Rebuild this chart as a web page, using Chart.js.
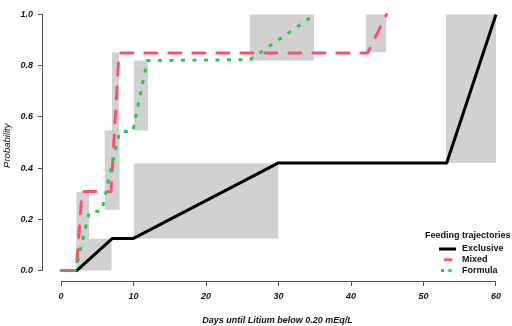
<!DOCTYPE html>
<html lang="en">
<head>
    <meta charset="UTF-8">
    <title>Feeding trajectories</title>
    <script src="https://cdn.jsdelivr.net/npm/chart.js"></script>
    <style>
        html, body { margin: 0; padding: 0; background: #fff; }
        #wrap { width: 512px; height: 326px; }
    </style>
</head>
<body>
    <div id="wrap"><canvas id="chart" width="512" height="326"></canvas></div>

    <script>
        // step curves (days, cumulative probability)
        const exclusiveDays = [0, 2.2, 7.1, 10, 30, 53.2, 60];
        const exclusiveProb = [0, 0, 0.125, 0.125, 0.42, 0.42, 1.0];

        const mixedDays = [0, 2.1, 2.9, 6.9, 8.0, 42.3, 44.9];
        const mixedProb = [0, 0, 0.308, 0.308, 0.85, 0.85, 1.0];

        const formulaDays = [0, 2.0, 3.9, 5.6, 8.1, 9.9, 11.9, 26.1, 35];
        const formulaProb = [0, 0, 0.228, 0.232, 0.543, 0.543, 0.82, 0.824, 1.0];

        // confidence boxes
        const boxStart = [2.1, 2.1, 6.0, 7.0, 10.0, 10.0, 26.0, 42.0, 53.1];
        const boxEnd   = [3.9, 7.0, 8.1, 8.0, 12.0, 30.0, 34.9, 44.9, 60];
        const boxLow   = [0, 0, 0.237, 0.30, 0.547, 0.125, 0.82, 0.853, 0.42];
        const boxHigh  = [0.307, 0.124, 0.547, 0.852, 0.82, 0.418, 1.0, 1.0, 1.0];

        const xTicks = [0, 10, 20, 30, 40, 50, 60];
        const yTicks = [0, 0.2, 0.4, 0.6, 0.8, 1.0];

        const FONT = "'Liberation Sans', Arial, sans-serif";
        const axisColor = '#555';
        const boxColor = '#d1d1d1';

        const series = [
            { label: 'Formula', days: formulaDays, prob: formulaProb, color: '#22cc44', dash: [4, 7.5], cap: 'butt', key: [3, 4.5] },
            { label: 'Mixed', days: mixedDays, prob: mixedProb, color: '#ff4f6f', dash: [12, 12], cap: 'round', key: [] },
            { label: 'Exclusive', days: exclusiveDays, prob: exclusiveProb, color: '#000000', dash: [], cap: 'butt', key: [] }
        ];

        const toPoints = (xs, ys) => xs.map((x, i) => ({ x: x, y: ys[i] }));

        const lineSets = series.map(s => ({
            label: s.label,
            data: toPoints(s.days, s.prob),
            borderColor: s.color,
            borderWidth: 3,
            borderDash: s.dash,
            borderCapStyle: s.cap,
            borderJoinStyle: 'round',
            pointRadius: 0,
            fill: false,
            tension: 0
        }));

        const boxSets = boxStart.map((x1, i) => ({
            label: 'ci' + i,
            data: [{ x: x1, y: boxHigh[i] }, { x: boxEnd[i], y: boxHigh[i] }],
            borderColor: 'rgba(0,0,0,0)',
            borderWidth: 0,
            backgroundColor: boxColor,
            pointRadius: 0,
            fill: { value: boxLow[i] },
            tension: 0
        }));

        const rStyle = {
            id: 'rStyle',
            afterDraw(chart) {
                const { ctx, chartArea } = chart;
                const x = chart.scales.x, y = chart.scales.y;
                ctx.save();
                // axis lines only over the tick range
                ctx.strokeStyle = axisColor;
                ctx.lineWidth = 1;
                ctx.beginPath();
                const yb = Math.round(chartArea.bottom) + 0.5;
                ctx.moveTo(x.getPixelForValue(xTicks[0]), yb);
                ctx.lineTo(x.getPixelForValue(xTicks[xTicks.length - 1]), yb);
                const xl = Math.round(chartArea.left) - 0.5;
                ctx.moveTo(xl, y.getPixelForValue(yTicks[0]));
                ctx.lineTo(xl, y.getPixelForValue(yTicks[yTicks.length - 1]));
                ctx.stroke();

                // legend
                ctx.fillStyle = '#111';
                ctx.font = 'bold 9px ' + FONT;
                ctx.textBaseline = 'middle';
                ctx.textAlign = 'left';
                ctx.fillText('Feeding trajectories', 425, 236);
                const order = ['Exclusive', 'Mixed', 'Formula'];
                const keyX = { Exclusive: [439, 456], Mixed: [445, 451], Formula: [441, 451.5] };
                order.forEach((name, i) => {
                    const s = series.find(d => d.label === name);
                    const ly = 249 + i * 10.8;
                    ctx.strokeStyle = s.color;
                    ctx.lineWidth = 3;
                    ctx.lineCap = name === 'Mixed' ? 'round' : 'butt';
                    ctx.setLineDash(s.key);
                    ctx.beginPath();
                    ctx.moveTo(keyX[name][0], ly);
                    ctx.lineTo(keyX[name][1], ly);
                    ctx.stroke();
                    ctx.setLineDash([]);
                    ctx.fillText(name, 462, ly);
                });
                ctx.restore();
            }
        };

        const tickFont = { family: FONT, size: 9, style: 'italic', weight: 'bold' };

        new Chart(document.getElementById('chart'), {
            type: 'line',
            data: { datasets: lineSets.concat(boxSets) },
            options: {
                responsive: false,
                animation: false,
                devicePixelRatio: 1,
                layout: { padding: 0 },
                plugins: {
                    legend: { display: false },
                    tooltip: { enabled: false }
                },
                scales: {
                    x: {
                        type: 'linear',
                        min: -2.483,
                        max: 62.207,
                        afterBuildTicks: sc => { sc.ticks = xTicks.map(v => ({ value: v })); },
                        afterFit: sc => { sc.height = 45; },
                        border: { display: false },
                        grid: { drawOnChartArea: false, drawTicks: true, tickLength: 5, color: axisColor },
                        ticks: { font: tickFont, color: '#111', padding: 5, maxRotation: 0, callback: v => String(v) },
                        title: {
                            display: true,
                            text: 'Days until Litium below 0.20 mEq/L',
                            font: { family: FONT, size: 9, style: 'italic', weight: 'bold' },
                            color: '#111',
                            padding: { top: 0, bottom: 0 }
                        }
                    },
                    y: {
                        type: 'linear',
                        min: -0.0414,
                        max: 1.0162,
                        afterBuildTicks: sc => { sc.ticks = yTicks.map(v => ({ value: v })); },
                        afterFit: sc => { sc.width = 43; },
                        border: { display: false },
                        grid: { drawOnChartArea: false, drawTicks: true, tickLength: 5, color: axisColor },
                        ticks: { font: tickFont, color: '#111', padding: 5, callback: v => v.toFixed(1) },
                        title: {
                            display: true,
                            text: 'Probability',
                            font: { family: FONT, size: 9.5, style: 'italic', weight: 'normal' },
                            color: '#111',
                            padding: { top: 1.5, bottom: 0 }
                        }
                    }
                }
            },
            plugins: [rStyle]
        });
    </script>
</body>
</html>
